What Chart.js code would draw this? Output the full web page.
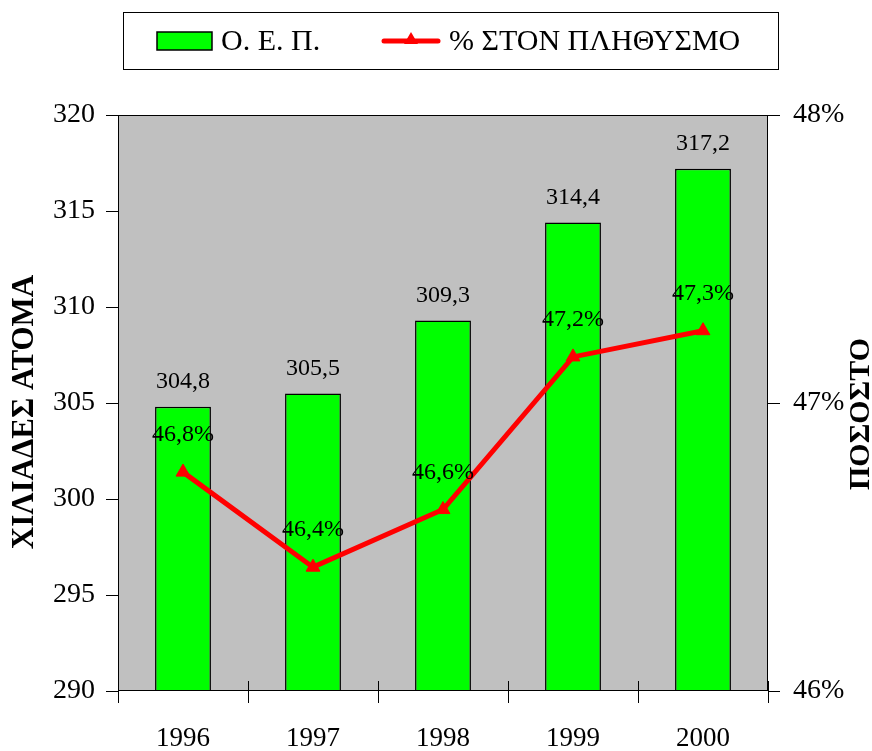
<!DOCTYPE html>
<html><head><meta charset="utf-8">
<script src="https://cdn.jsdelivr.net/npm/chart.js@4"></script>
<style>html,body{margin:0;padding:0;background:#fff}#wrap{width:872px;height:751px}</style>
</head><body><div id="wrap"><canvas id="c" width="872" height="751"></canvas></div>
<script>
const years = ['1996','1997','1998','1999','2000'];
const oepValues = [304.8, 305.5, 309.3, 314.4, 317.2];
const pctValues = [46.76, 46.43, 46.63, 47.16, 47.251];
const leftTicks = [290, 295, 300, 305, 310, 315, 320];
const rightTicks = [46, 47, 48];
const seriesNames = ['Ο. Ε. Π.', '% ΣΤΟΝ ΠΛΗΘΥΣΜΟ'];
const leftTitle = 'ΧΙΛΙΑΔΕΣ ΑΤΟΜΑ';
const rightTitle = 'ΠΟΣΟΣΤΟ';

const FONT = "'Liberation Serif', 'Times New Roman', serif";
const fmt = v => v.toFixed(1).replace('.', ',');

const decor = {
  id: 'decor',
  beforeDraw(chart) {
    const {ctx, chartArea: a} = chart;
    ctx.save();
    ctx.fillStyle = '#c0c0c0';
    ctx.fillRect(a.left, a.top, a.right - a.left, a.bottom - a.top);
    ctx.restore();
  },
  afterDatasetsDraw(chart) {
    const {ctx, chartArea: a, scales} = chart;
    ctx.save();
    ctx.strokeStyle = '#000'; ctx.lineWidth = 1;
    ctx.strokeRect(a.left + 0.5, a.top + 0.5, a.right - a.left - 1, a.bottom - a.top - 1);
    const xs = scales.x;
    const n = years.length;
    ctx.beginPath();
    for (let i = 0; i <= n; i++) {
      const px = Math.round(xs.getPixelForValue(i - 0.5)) + 0.5;
      ctx.moveTo(px, a.bottom - 10); ctx.lineTo(px, a.bottom + 12);
    }
    leftTicks.forEach(t => { const py = Math.round(scales.y.getPixelForValue(t)) + 0.5; ctx.moveTo(a.left - 12, py); ctx.lineTo(a.left, py); });
    rightTicks.forEach(t => { const py = Math.round(scales.y2.getPixelForValue(t)) + 0.5; ctx.moveTo(a.right, py); ctx.lineTo(a.right + 12, py); });
    ctx.stroke();
    ctx.fillStyle = '#000';
    ctx.font = '24px ' + FONT;
    ctx.textAlign = 'center'; ctx.textBaseline = 'middle';
    const barMeta = chart.getDatasetMeta(0);
    barMeta.data.forEach((el, i) => { ctx.fillText(fmt(oepValues[i]), el.x, el.y - 25); });
    ctx.restore();
  },
  afterDraw(chart) {
    const {ctx, scales} = chart;
    ctx.save();
    ctx.fillStyle = '#000';
    ctx.font = '24px ' + FONT;
    ctx.textAlign = 'center'; ctx.textBaseline = 'middle';
    const lineMeta = chart.getDatasetMeta(1);
    lineMeta.data.forEach((el, i) => { ctx.fillText(fmt(pctValues[i]) + '%', el.x, el.y - 37); });
    const midY = (scales.y.top + scales.y.bottom) / 2 + 9;
    // axis titles
    ctx.font = 'bold 31px ' + FONT;
    ctx.save();
    ctx.translate(25, midY); ctx.rotate(-Math.PI / 2); ctx.fillText(leftTitle, 0, 0);
    ctx.restore();
    ctx.font = 'bold 30px ' + FONT;
    ctx.save();
    ctx.translate(861, midY + 2); ctx.rotate(-Math.PI / 2); ctx.fillText(rightTitle, 0, 0);
    ctx.restore();
    ctx.restore();
    // legend
    ctx.save();
    ctx.fillStyle = '#fff'; ctx.strokeStyle = '#000'; ctx.lineWidth = 1;
    ctx.fillRect(123.5, 12.5, 655, 57); ctx.strokeRect(123.5, 12.5, 655, 57);
    ctx.fillStyle = '#00ff00'; ctx.fillRect(157, 32, 55, 18);
    ctx.lineWidth = 1.5; ctx.strokeRect(157, 32, 55, 18);
    ctx.fillStyle = '#000'; ctx.font = '30px ' + FONT; ctx.textAlign = 'left'; ctx.textBaseline = 'middle';
    ctx.fillText(seriesNames[0], 221, 42);
    ctx.strokeStyle = '#ff0000'; ctx.lineWidth = 5; ctx.lineCap = 'round';
    ctx.beginPath(); ctx.moveTo(384, 41); ctx.lineTo(438, 41); ctx.stroke();
    ctx.fillStyle = '#ff0000';
    ctx.beginPath(); ctx.moveTo(411, 32); ctx.lineTo(418, 44); ctx.lineTo(404, 44); ctx.closePath(); ctx.fill();
    ctx.fillStyle = '#000';
    ctx.fillText(seriesNames[1], 449, 42);
    ctx.restore();
  }
};

new Chart(document.getElementById('c'), {
  data: {
    labels: years,
    datasets: [
      { type: 'bar', label: seriesNames[0], data: oepValues, yAxisID: 'y',
        backgroundColor: '#00ff00', borderColor: '#000', borderWidth: 1.5,
        categoryPercentage: 1, barPercentage: 0.43, order: 2 },
      { type: 'line', label: seriesNames[1], data: pctValues, yAxisID: 'y2',
        borderColor: '#ff0000', borderWidth: 5, pointStyle: 'triangle', pointRadius: 8,
        pointBackgroundColor: '#ff0000', pointBorderColor: '#ff0000', pointBorderWidth: 1,
        tension: 0, order: 1 }
    ]
  },
  options: {
    responsive: false, animation: false, devicePixelRatio: 1,
    layout: { padding: { top: 115, left: 0, right: 0, bottom: 0 } },
    plugins: { legend: { display: false }, tooltip: { enabled: false } },
    scales: {
      x: {
        offset: true,
        grid: { display: false, drawTicks: false },
        border: { display: false },
        ticks: { color: '#000', font: { family: FONT, size: 27 }, padding: 32, maxRotation: 0 },
        afterFit(s) { s.height = 60; }
      },
      y: {
        position: 'left', min: 290, max: 320,
        afterBuildTicks(s) { s.ticks = leftTicks.map(v => ({ value: v })); },
        grid: { display: false, drawTicks: false },
        border: { display: false },
        ticks: { color: '#000', font: { family: FONT, size: 28 }, padding: 23 },
        afterFit(s) { s.width = 118; }
      },
      y2: {
        position: 'right', min: 46, max: 48,
        afterBuildTicks(s) { s.ticks = rightTicks.map(v => ({ value: v })); },
        grid: { display: false, drawTicks: false },
        border: { display: false },
        ticks: { color: '#000', font: { family: FONT, size: 28 }, padding: 25, callback: v => v + '%' },
        afterFit(s) { s.width = 104; }
      }
    }
  },
  plugins: [decor]
});
</script>
</body></html>
